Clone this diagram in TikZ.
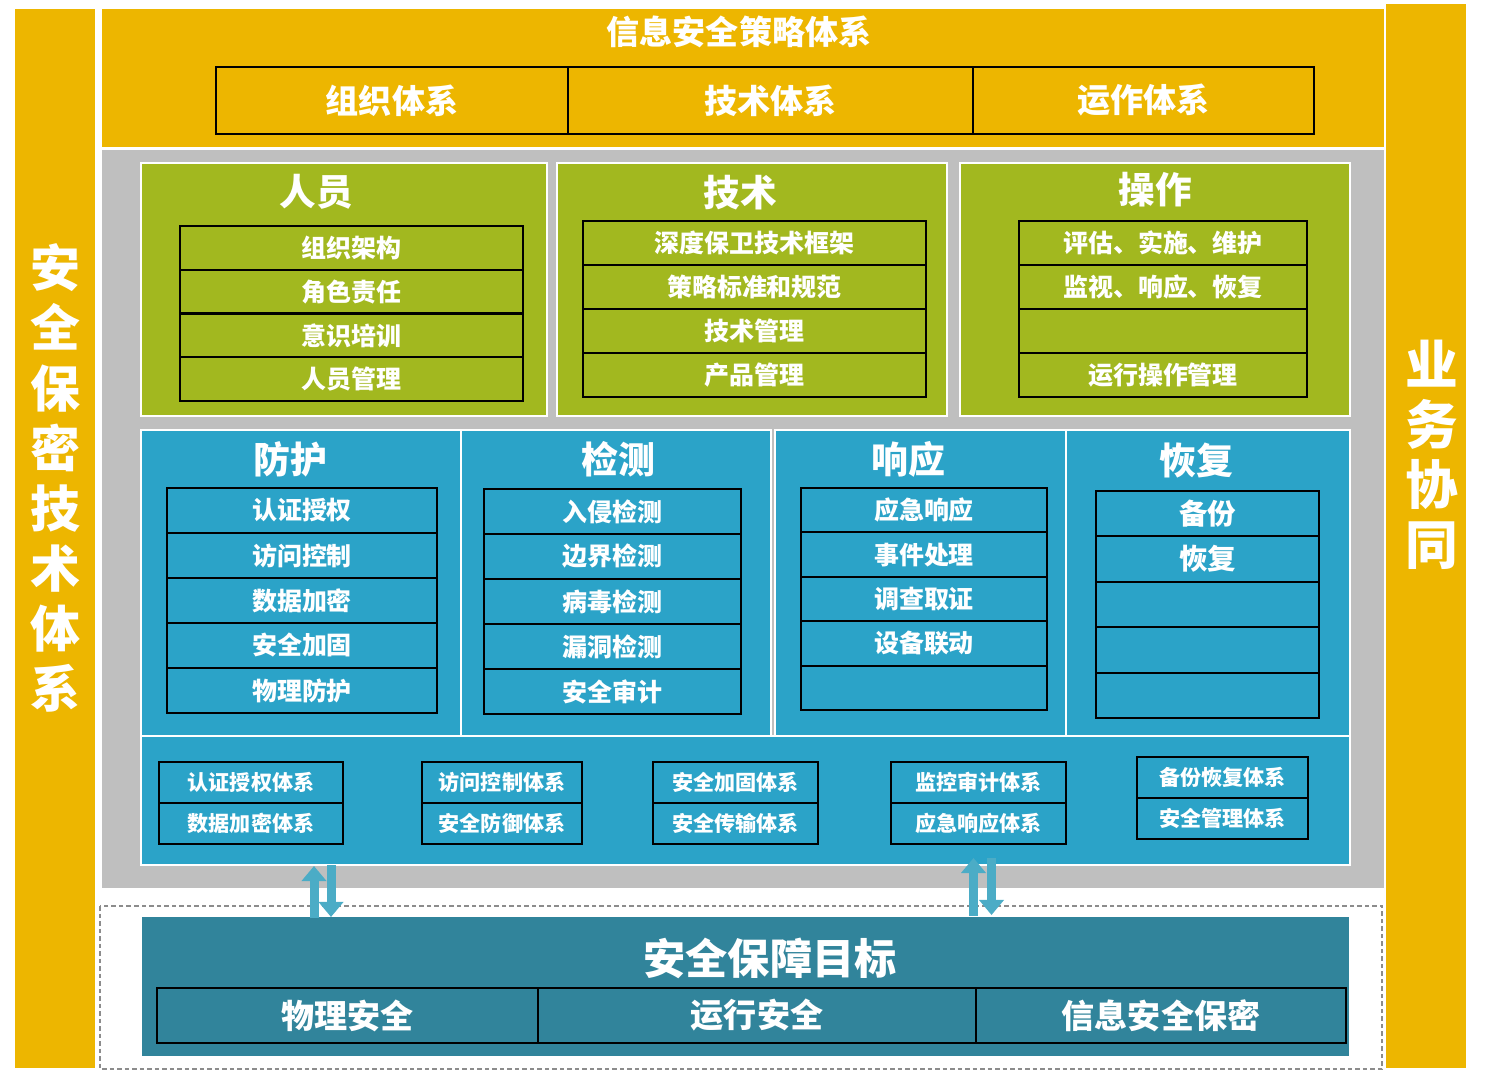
\documentclass[tikz,border=0pt]{standalone}
\usepackage{fontspec}
\setmainfont{Noto Sans CJK SC}
\usetikzlibrary{arrows.meta}

\definecolor{barYellow}{HTML}{EDB600}
\definecolor{boxGreen}{HTML}{A2B81F}
\definecolor{backGray}{HTML}{BFBFBF}
\definecolor{boxBlue}{HTML}{2BA3C8}
\definecolor{goalTeal}{HTML}{31849B}
\definecolor{arrowBlue}{HTML}{4BACC6}
\definecolor{dashGray}{HTML}{8C8C8C}

\tikzset{
  wtext/.style={text=white, font=\bfseries\fontsize{#1}{#1}\selectfont},
  rowbox/.style={draw=black, line width=0.6pt, inner sep=0pt, outer sep=0pt,
    text=white, font=\bfseries\fontsize{7.1}{8}\selectfont},
  smallbox/.style={rowbox, minimum height=0.41cm,
    font=\bfseries\fontsize{6}{7}\selectfont},
  panel/.style={draw=white, line width=0.5pt},
  syncarrow/.style={arrowBlue, line width=0.09cm,
    -{Triangle[length=0.15cm,width=0.24cm]}}
}

\begin{document}
\begin{tikzpicture}[x=0.01cm, y=-0.01cm]
\useasboundingbox (0,0) rectangle (1489,1071);

% Side bars
\fill[barYellow] (15,9) rectangle (95,1068);
\fill[barYellow] (1386,4) rectangle (1466,1068);
\node[wtext=14.2, align=center, font=\bfseries\fontsize{14.2}{17.07}\selectfont] (leftbar) at (55,478)
  {安\\全\\保\\密\\技\\术\\体\\系};
\node[wtext=15, align=center, font=\bfseries\fontsize{15}{17.07}\selectfont] (rightbar) at (1432,455)
  {业\\务\\协\\同};

% Policy system
\fill[barYellow] (102,9) rectangle (1384,147);
\node[wtext=9.4] (policy) at (739,32) {信息安全策略体系};
\node[rowbox, minimum width=3.52cm, minimum height=0.67cm, font=\bfseries\fontsize{9.4}{10}\selectfont] (org) at (392,100.5) {组织体系};
\node[rowbox, minimum width=4.05cm, minimum height=0.67cm, font=\bfseries\fontsize{9.4}{10}\selectfont] (techsys) at (770.5,100.5) {技术体系};
\node[rowbox, minimum width=3.41cm, minimum height=0.67cm, font=\bfseries\fontsize{9.4}{10}\selectfont] (opsys) at (1143.5,100.5) {运作体系};

% Gray background
\fill[backGray] (102,150) rectangle (1384,888);

% People / technology / operation
\filldraw[boxGreen, panel] (141,163) rectangle (547,416);
\filldraw[boxGreen, panel] (557,163) rectangle (947,416);
\filldraw[boxGreen, panel] (960,163) rectangle (1350,416);
\node[wtext=10.4] (people) at (316,192) {人员};
\node[wtext=10.4] (tech) at (740,193) {技术};
\node[wtext=10.4] (ops) at (1155,190) {操作};
\foreach \t [count=\i] in {组织架构,角色责任,意识培训,人员管理}
  \node[rowbox, minimum width=3.43cm, minimum height=0.4375cm] (people\i) at (351.5,{226+\i*43.75-21.875}) {\t};
\foreach \t [count=\i] in {深度保卫技术框架,策略标准和规范,技术管理,产品管理}
  \node[rowbox, minimum width=3.43cm, minimum height=0.44cm] (tech\i) at (754.5,{221+\i*44-22}) {\t};
\foreach \t [count=\i] in {评估、实施、维护,监视、响应、恢复,{},运行操作管理}
  \node[rowbox, minimum width=2.88cm, minimum height=0.44cm] (ops\i) at (1163,{221+\i*44-22}) {\t};

% Protect / detect / respond / recover
\filldraw[boxBlue, panel] (141,430) rectangle (461,736);
\filldraw[boxBlue, panel] (461,430) rectangle (771,736);
\filldraw[boxBlue, panel] (775,430) rectangle (1066,736);
\filldraw[boxBlue, panel] (1066,430) rectangle (1350,736);
\filldraw[boxBlue, panel] (141,736) rectangle (1350,865);
\node[wtext=10.5] (protect) at (290,459) {防护};
\node[wtext=10.5] (detect) at (618,459) {检测};
\node[wtext=10.5] (respond) at (908,459) {响应};
\node[wtext=10.5] (recover) at (1196,461) {恢复};
\foreach \t [count=\i] in {认证授权,访问控制,数据加密,安全加固,物理防护}
  \node[rowbox, minimum width=2.7cm, minimum height=0.45cm] (protect\i) at (302,{488+\i*45-22.5}) {\t};
\foreach \t [count=\i] in {入侵检测,边界检测,病毒检测,漏洞检测,安全审计}
  \node[rowbox, minimum width=2.57cm, minimum height=0.45cm] (detect\i) at (612.5,{489+\i*45-22.5}) {\t};
\foreach \t [count=\i] in {应急响应,事件处理,调查取证,设备联动,{}}
  \node[rowbox, minimum width=2.46cm, minimum height=0.444cm] (respond\i) at (924,{488+\i*44.4-22.2}) {\t};
\foreach \t [count=\i] in {备份,恢复,{},{},{}}
  \node[rowbox, minimum width=2.23cm, minimum height=0.454cm, font=\bfseries\fontsize{8.1}{9}\selectfont] (recover\i) at (1207.5,{491+\i*45.4-22.7}) {\t};

% Sub-systems
\node[smallbox, minimum width=1.84cm] (auth) at (251,782.5) {认证授权体系};
\node[smallbox, minimum width=1.84cm] (crypt) at (251,823.5) {数据加密体系};
\node[smallbox, minimum width=1.6cm] (access) at (502,782.5) {访问控制体系};
\node[smallbox, minimum width=1.6cm] (defend) at (502,823.5) {安全防御体系};
\node[smallbox, minimum width=1.65cm] (harden) at (735.5,782.5) {安全加固体系};
\node[smallbox, minimum width=1.65cm] (trans) at (735.5,823.5) {安全传输体系};
\node[smallbox, minimum width=1.75cm] (audit) at (978.5,782.5) {监控审计体系};
\node[smallbox, minimum width=1.75cm] (emerg) at (978.5,823.5) {应急响应体系};
\node[smallbox, minimum width=1.71cm] (backup) at (1222.5,777.5) {备份恢复体系};
\node[smallbox, minimum width=1.71cm] (manage) at (1222.5,818.5) {安全管理体系};

% Security goals
\draw[dashGray, line width=0.45pt, dash pattern=on 0.045cm off 0.03cm] (100,906) rectangle (1382,1069);
\fill[goalTeal] (142,917) rectangle (1349,1056);
\node[wtext=12] (goal) at (770,958) {安全保障目标};
\node[rowbox, minimum width=3.81cm, minimum height=0.55cm, font=\bfseries\fontsize{9.4}{10}\selectfont] (phys) at (347.5,1015.5) {物理安全};
\node[rowbox, minimum width=4.38cm, minimum height=0.55cm, font=\bfseries\fontsize{9.4}{10}\selectfont] (run) at (757,1015.5) {运行安全};
\node[rowbox, minimum width=3.70cm, minimum height=0.55cm, font=\bfseries\fontsize{9.4}{10}\selectfont] (secret) at (1161,1015.5) {信息安全保密};

% Arrows
\coordinate (upLfrom) at (314,918);
\coordinate (upLto) at (314,866);
\coordinate (dnLfrom) at (331,865);
\coordinate (dnLto) at (331,917);
\coordinate (upRfrom) at (973.5,916);
\coordinate (upRto) at (973.5,858);
\coordinate (dnRfrom) at (991.5,858);
\coordinate (dnRto) at (991.5,915);
\draw[syncarrow] (upLfrom) -- (upLto);
\draw[syncarrow] (dnLfrom) -- (dnLto);
\draw[syncarrow] (upRfrom) -- (upRto);
\draw[syncarrow] (dnRfrom) -- (dnRto);
\end{tikzpicture}
\end{document}
